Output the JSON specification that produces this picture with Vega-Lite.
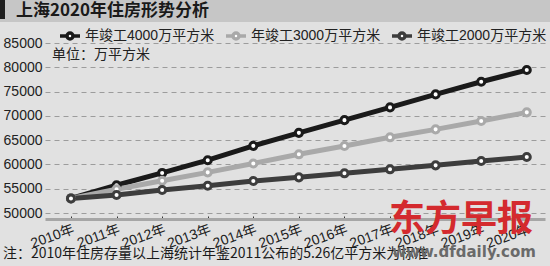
{
  "$schema": "https://vega.github.io/schema/vega-lite/v6.json",
  "autosize": "none",
  "width": 500,
  "height": 170,
  "padding": {"left": 45, "top": 43, "right": 5, "bottom": 53},
  "background": "#e1e1e1",
  "config": {
    "view": {"stroke": null},
    "font": "Liberation Sans, Noto Sans CJK SC",
    "axis": {"labelFont": "Liberation Sans, Noto Sans CJK SC", "labelColor": "#222222", "labelFontSize": 14, "title": null, "labelOverlap": false, "labelFlush": false, "labelBound": false}
  },
  "data": {"values": [
    {"year": 2010, "series": "年竣工4000万平方米", "value": 53000},
    {"year": 2011, "series": "年竣工4000万平方米", "value": 55710},
    {"year": 2012, "series": "年竣工4000万平方米", "value": 58250},
    {"year": 2013, "series": "年竣工4000万平方米", "value": 60870},
    {"year": 2014, "series": "年竣工4000万平方米", "value": 63820},
    {"year": 2015, "series": "年竣工4000万平方米", "value": 66500},
    {"year": 2016, "series": "年竣工4000万平方米", "value": 69120},
    {"year": 2017, "series": "年竣工4000万平方米", "value": 71740},
    {"year": 2018, "series": "年竣工4000万平方米", "value": 74420},
    {"year": 2019, "series": "年竣工4000万平方米", "value": 77020},
    {"year": 2020, "series": "年竣工4000万平方米", "value": 79430},
    {"year": 2010, "series": "年竣工3000万平方米", "value": 53000},
    {"year": 2011, "series": "年竣工3000万平方米", "value": 54900},
    {"year": 2012, "series": "年竣工3000万平方米", "value": 56650},
    {"year": 2013, "series": "年竣工3000万平方米", "value": 58370},
    {"year": 2014, "series": "年竣工3000万平方米", "value": 60200},
    {"year": 2015, "series": "年竣工3000万平方米", "value": 62080},
    {"year": 2016, "series": "年竣工3000万平方米", "value": 63800},
    {"year": 2017, "series": "年竣工3000万平方米", "value": 65580},
    {"year": 2018, "series": "年竣工3000万平方米", "value": 67220},
    {"year": 2019, "series": "年竣工3000万平方米", "value": 68930},
    {"year": 2020, "series": "年竣工3000万平方米", "value": 70720},
    {"year": 2010, "series": "年竣工2000万平方米", "value": 53000},
    {"year": 2011, "series": "年竣工2000万平方米", "value": 53700},
    {"year": 2012, "series": "年竣工2000万平方米", "value": 54730},
    {"year": 2013, "series": "年竣工2000万平方米", "value": 55620},
    {"year": 2014, "series": "年竣工2000万平方米", "value": 56580},
    {"year": 2015, "series": "年竣工2000万平方米", "value": 57340},
    {"year": 2016, "series": "年竣工2000万平方米", "value": 58170},
    {"year": 2017, "series": "年竣工2000万平方米", "value": 58990},
    {"year": 2018, "series": "年竣工2000万平方米", "value": 59810},
    {"year": 2019, "series": "年竣工2000万平方米", "value": 60700},
    {"year": 2020, "series": "年竣工2000万平方米", "value": 61520}
  ]},
  "layer": [
    {
      "data": {"values": [{"t": ""}]},
      "mark": {"type": "rect", "color": "#c6c6c6"},
      "encoding": {"x": {"value": -45}, "x2": {"value": 505}, "y": {"value": -43}, "y2": {"value": -21}}
    },
    {
      "data": {"values": [{"t": ""}]},
      "mark": {"type": "rect", "color": "#1e1e1e"},
      "encoding": {"x": {"value": -45}, "x2": {"value": -40}, "y": {"value": -43}, "y2": {"value": -24}}
    },
    {
      "data": {"values": [{"t": "上海2020年住房形势分析"}]},
      "mark": {"type": "text", "align": "left", "baseline": "middle", "font": "Noto Sans CJK SC", "fontSize": 17, "fontWeight": "bold", "color": "#1a1a1a"},
      "encoding": {"x": {"value": -29}, "y": {"value": -32}, "text": {"field": "t"}}
    },
    {
      "data": {"values": [{"t": "单位：万平方米"}]},
      "mark": {"type": "text", "align": "left", "baseline": "middle", "font": "Noto Sans CJK SC", "fontSize": 14, "color": "#222222"},
      "encoding": {"x": {"value": 7}, "y": {"value": 12}, "text": {"field": "t"}}
    },
    {
      "encoding": {
        "x": {"field": "year", "type": "quantitative",
              "scale": {"domain": [2009.43, 2020.4], "nice": false, "zero": false},
              "axis": {"values": [2010, 2011, 2012, 2013, 2014, 2015, 2016, 2017, 2018, 2019, 2020],
                       "labelExpr": "datum.value + '年'", "grid": false, "domain": true, "domainColor": "#a6a6a6", "domainWidth": 3,
                       "offset": 6, "ticks": true, "tickColor": "#333333", "tickSize": -3, "labelAngle": -20, "labelAlign": "right",
                       "labelBaseline": "top", "labelPadding": 6}},
        "y": {"field": "value", "type": "quantitative",
              "scale": {"domain": [50000, 85000], "nice": false, "zero": false},
              "axis": {"values": [50000, 55000, 60000, 65000, 70000, 75000, 80000, 85000], "format": "d",
                       "domain": false, "ticks": false, "labelPadding": 3, "grid": true, "gridColor": "#9c9c9c", "gridDash": [5, 4], "gridWidth": 1}},
        "color": {"field": "series", "type": "nominal",
                  "scale": {"domain": ["年竣工4000万平方米", "年竣工3000万平方米", "年竣工2000万平方米"], "range": ["#1a1a1a", "#a9a9a9", "#3d3d3d"]},
                  "legend": {"orient": "none", "legendX": 13, "legendY": -19, "direction": "horizontal", "title": null,
                             "symbolType": "M-1,0H-0.3M0.3,0H1M0.3,0A0.3,0.3,0,1,1,-0.3,0A0.3,0.3,0,1,1,0.3,0",
                             "symbolSize": 400, "symbolStrokeWidth": 3.5, "symbolFillColor": "#ffffff",
                             "labelFont": "Liberation Sans, Noto Sans CJK SC", "labelFontSize": 14, "labelColor": "#222222",
                             "columnPadding": 4, "labelOffset": 3, "labelLimit": 300}}
      },
      "layer": [
        {"mark": {"type": "line", "strokeWidth": 5}},
        {"mark": {"type": "point", "filled": false, "fill": "#ffffff", "fillOpacity": 1, "opacity": 1, "size": 50, "strokeWidth": 3}}
      ]
    },
    {
      "data": {"values": [{"t": "注：2010年住房存量以上海统计年鉴2011公布的5.26亿平方米为标准"}]},
      "mark": {"type": "text", "align": "left", "baseline": "middle", "font": "Noto Sans CJK SC", "fontSize": 14, "color": "#1a1a1a"},
      "encoding": {"x": {"value": -42}, "y": {"value": 211}, "text": {"field": "t"}}
    },
    {
      "data": {"values": [{"t": "东方早报"}]},
      "mark": {"type": "text", "align": "center", "baseline": "middle", "font": "Noto Sans CJK SC", "fontSize": 36, "fontWeight": "bold", "color": "#d42a2e"},
      "encoding": {"x": {"value": 416}, "y": {"value": 177}, "text": {"field": "t"}}
    },
    {
      "data": {"values": [{"t": "www.dfdaily.com"}]},
      "mark": {"type": "text", "align": "center", "baseline": "middle", "font": "DejaVu Sans", "fontSize": 15, "fontWeight": "bold", "color": "#6a6a6a"},
      "encoding": {"x": {"value": 419}, "y": {"value": 209}, "text": {"field": "t"}}
    }
  ]
}
